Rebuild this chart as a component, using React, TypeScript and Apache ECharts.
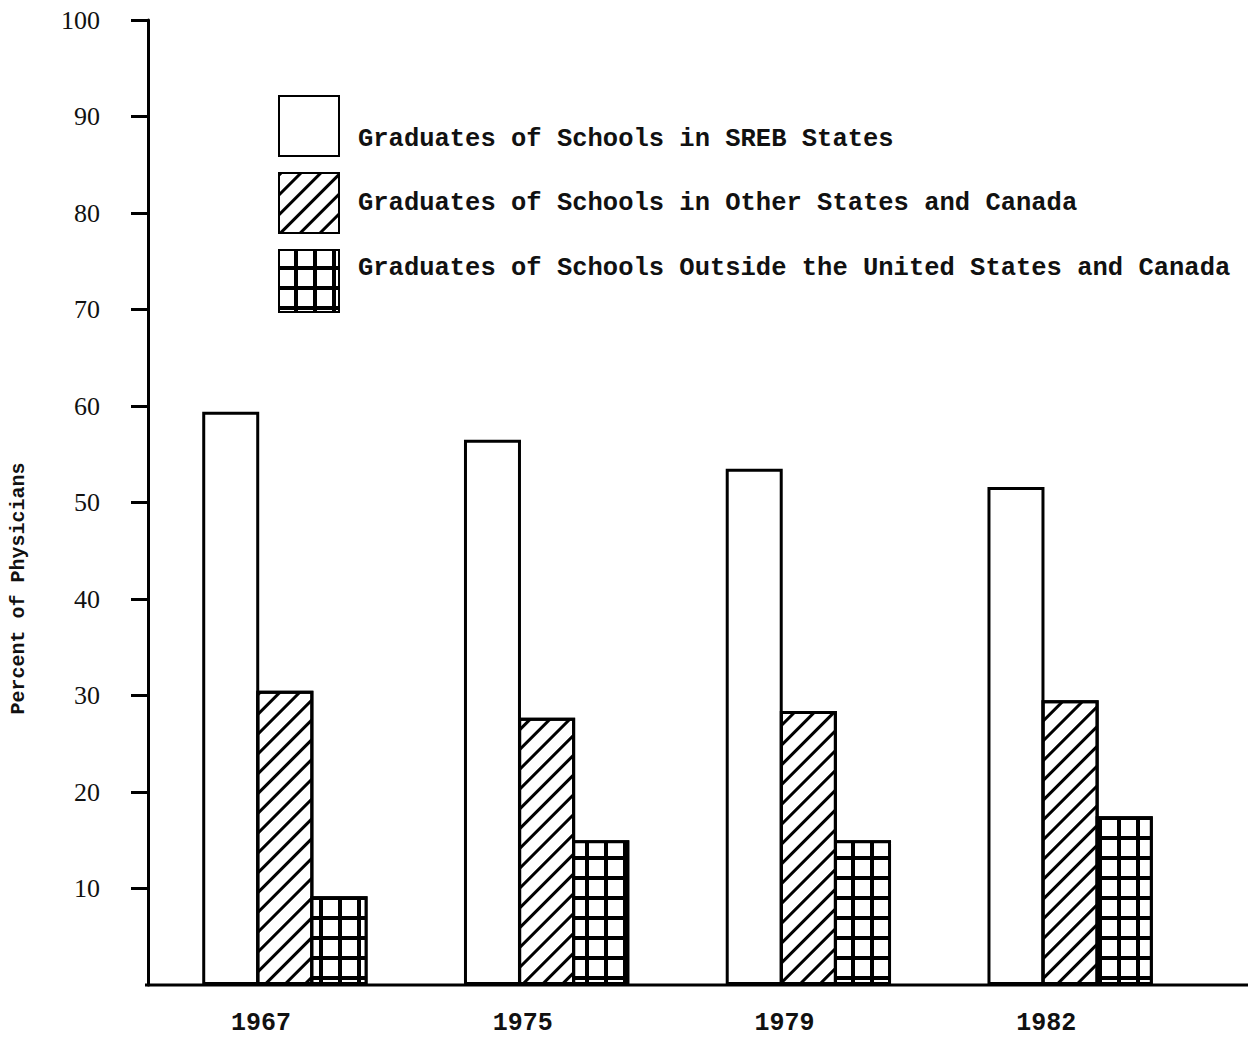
import React, { useEffect, useRef } from "react";
import * as echarts from "echarts";

const years = ["1967", "1975", "1979", "1982"];
const sreb = [59.4, 56.5, 53.5, 51.6];
const otherStates = [30.5, 27.7, 28.4, 29.5];
const outside = [9.2, 15.0, 15.0, 17.5];
const seriesNames = [
  "Graduates of Schools in SREB States",
  "Graduates of Schools in Other States and Canada",
  "Graduates of Schools Outside the United States and Canada",
];
const yTicks = [10, 20, 30, 40, 50, 60, 70, 80, 90, 100];

const MONO = "'Liberation Mono', 'DejaVu Sans Mono', monospace";

export default function App() {
  const ref = useRef<HTMLDivElement>(null);
  useEffect(() => {
    const chart = echarts.init(ref.current!, null, { renderer: "svg" });
    const border = { borderColor: "#000", borderWidth: 3 };
    const legendText = {
      fontFamily: MONO,
      fontSize: 25.5,
      fontWeight: "bold",
      color: "#111",
      lineHeight: 26,
      padding: [0, 0, 0, 14],
    };
    const legendBase = {
      left: 278,
      padding: 0,
      orient: "vertical",
      icon: "rect",
      itemWidth: 60,
      itemHeight: 60,
      textStyle: legendText,
      selectedMode: false,
    };
    chart.setOption({
      animation: false,
      backgroundColor: "#fff",
      grid: { left: 154, right: 55, top: 20, bottom: 59 },
      legend: [
        {
          ...legendBase,
          data: [seriesNames[0]],
          top: 95,
          formatter: (n: string) => "\n" + n,
        },
        {
          ...legendBase,
          data: [seriesNames[1]],
          top: 172,
        },
        {
          ...legendBase,
          data: [seriesNames[2]],
          top: 249,
          itemHeight: 62,
          formatter: (n: string) => n + "\n",
        },
      ],
      xAxis: {
        type: "category",
        data: years,
        axisLine: { show: false },
        axisTick: { show: false },
        axisLabel: {
          margin: 26,
          fontFamily: MONO,
          fontSize: 25,
          fontWeight: "bold",
          color: "#111",
          padding: [0, 48, 0, 0],
        },
      },
      yAxis: {
        type: "value",
        min: 0,
        max: 100,
        interval: 10,
        offset: 6,
        name: "Percent of Physicians",
        nameLocation: "middle",
        nameRotate: 90,
        nameGap: 120,
        nameTextStyle: {
          fontFamily: MONO,
          fontSize: 20,
          fontWeight: "bold",
          color: "#111",
          padding: [0, 172, 0, 0],
        },
        axisLine: { show: true, lineStyle: { color: "#000", width: 3 } },
        axisTick: {
          show: true,
          length: 17,
          customValues: yTicks,
          lineStyle: { color: "#000", width: 3 },
        },
        splitLine: { show: false },
        axisLabel: {
          margin: 48,
          customValues: yTicks,
          fontFamily: "'Liberation Serif', serif",
          fontSize: 26,
          color: "#111",
        },
      },
      graphic: [
        {
          type: "line",
          shape: { x1: 145, y1: 985, x2: 1256, y2: 985 },
          style: { stroke: "#000", lineWidth: 3 },
          z: 100,
        },
      ],
      series: [
        {
          name: seriesNames[0],
          type: "bar",
          data: sreb,
          barWidth: 57,
          barGap: "-5%",
          itemStyle: { color: "#fff", ...border },
        },
        {
          name: seriesNames[1],
          type: "bar",
          data: otherStates,
          barWidth: 57,
          barGap: "-5%",
          itemStyle: {
            color: "#fff",
            ...border,
            decal: {
              color: "#000",
              symbol: "rect",
              symbolSize: 1,
              dashArrayX: [1, 0],
              dashArrayY: [3, 11],
              rotation: -Math.PI / 4,
            },
          },
        },
        {
          name: seriesNames[2],
          type: "bar",
          data: outside,
          barWidth: 57,
          barGap: "-5%",
          itemStyle: {
            color: "#000",
            ...border,
            decal: {
              color: "#fff",
              symbol: "rect",
              symbolSize: 1,
              dashArrayX: [15, 3.5],
              dashArrayY: [15.5, 3.5],
            },
          },
        },
      ],
    });
    return () => chart.dispose();
  }, []);
  return <div ref={ref} style={{ width: 1256, height: 1044, margin: -8 }} />;
}
